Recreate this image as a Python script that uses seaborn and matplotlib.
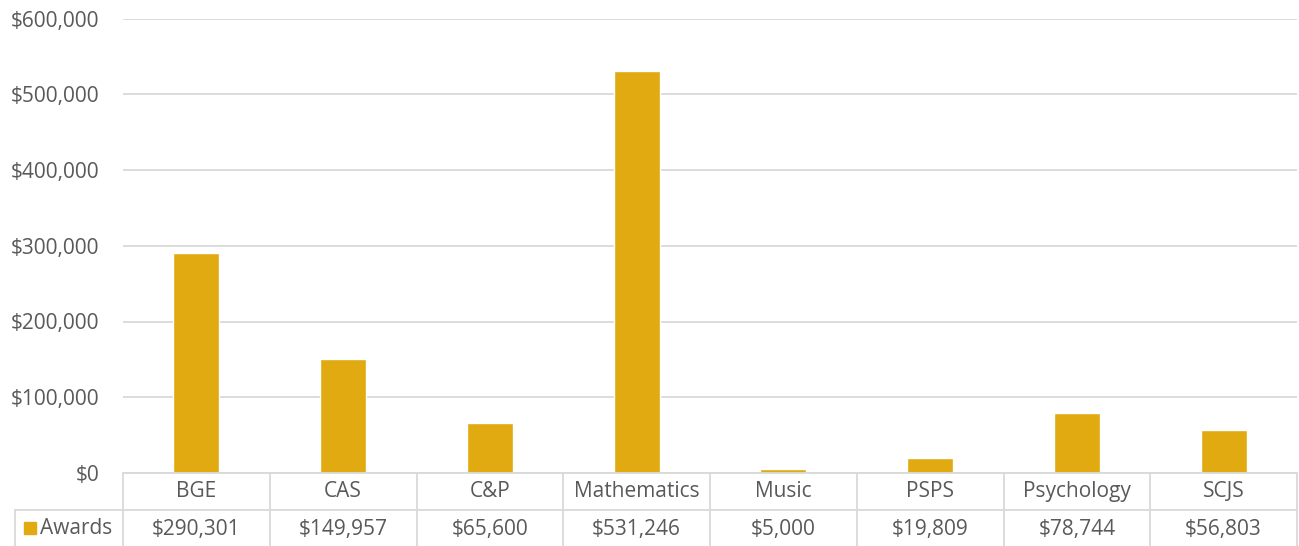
import matplotlib
matplotlib.use("Agg")
import matplotlib.pyplot as plt
import seaborn as sns
import pandas as pd

# data
CATEGORIES = ["BGE", "CAS", "C&P", "Mathematics", "Music", "PSPS", "Psychology", "SCJS"]
AWARDS = [290301, 149957, 65600, 531246, 5000, 19809, 78744, 56803]
SERIES_NAME = "Awards"
Y_TICKS = [0, 100000, 200000, 300000, 400000, 500000, 600000]

BAR_COLOR = "#E0AA10"
TEXT_COLOR = "#595959"
GRID_COLOR = "#D9D9D9"
FS = 15

sns.set_theme(style="white")
plt.rcParams["font.family"] = ["Open Sans", "DejaVu Sans"]

W, H = 1299, 546
fig = plt.figure(figsize=(W / 100, H / 100), dpi=100)

# plot area in pixel coords of the reference
left, right, top, bottom = 123, 1297, 18.5, 473
ax = fig.add_axes([left / W, 1 - bottom / H, (right - left) / W, (bottom - top) / H])

df = pd.DataFrame({"category": CATEGORIES, "value": AWARDS})
sns.barplot(data=df, x="category", y="value", color=BAR_COLOR, saturation=1,
            width=0.315, ax=ax)

ax.set_xlim(-0.5, len(CATEGORIES) - 0.5)
ax.set_ylim(0, 600000)
ax.set_yticks(Y_TICKS)
ax.set_yticklabels([f"${v:,.0f}" for v in Y_TICKS], fontsize=FS, color=TEXT_COLOR)
ax.tick_params(axis="y", length=0, pad=17)
ax.set_xticks([])
ax.set_xlabel("")
ax.set_ylabel("")
for s in ax.spines.values():
    s.set_visible(False)
ax.yaxis.grid(True, color=GRID_COLOR, linewidth=1.3)
ax.set_axisbelow(True)

# data table below the plot area (x in data coords, y in pixels converted to axes units)
plot_h = bottom - top
def ypix(p):
    return (bottom - p) / plot_h

row1 = ypix(510)
row2 = ypix(547)
lw = 1.3
n = len(CATEGORIES)
line_kw = dict(color=GRID_COLOR, linewidth=lw, clip_on=False,
               transform=ax.get_xaxis_transform())

# horizontal lines
ax.plot([-0.5, n - 0.5], [0, 0], **line_kw)
x_awards_left = -0.5 - (left - 15) / ((right - left) / n)
ax.plot([x_awards_left, n - 0.5], [row1, row1], **line_kw)
ax.plot([x_awards_left, n - 0.5], [row2, row2], **line_kw)
# vertical lines
for i in range(n + 1):
    ax.plot([i - 0.5, i - 0.5], [0, row2], **line_kw)
ax.plot([x_awards_left, x_awards_left], [row1, row2], **line_kw)

trans = ax.get_xaxis_transform()
for i, (cat, val) in enumerate(zip(CATEGORIES, AWARDS)):
    ax.text(i, (0 + row1) / 2, cat, ha="center", va="center", fontsize=FS,
            color=TEXT_COLOR, transform=trans, clip_on=False)
    ax.text(i, (row1 + row2) / 2 - 0.003, f"${val:,.0f}", ha="center", va="center",
            fontsize=FS, color=TEXT_COLOR, transform=trans, clip_on=False)

# legend key cell
fig.patches.append(plt.Rectangle((24 / W, 1 - 534 / H), 12 / W, 12 / H,
                                 transform=fig.transFigure, color=BAR_COLOR))
fig.text(40 / W, 1 - 528.5 / H, SERIES_NAME, ha="left", va="center",
         fontsize=FS, color=TEXT_COLOR)

fig.savefig("out.png", dpi=100)
